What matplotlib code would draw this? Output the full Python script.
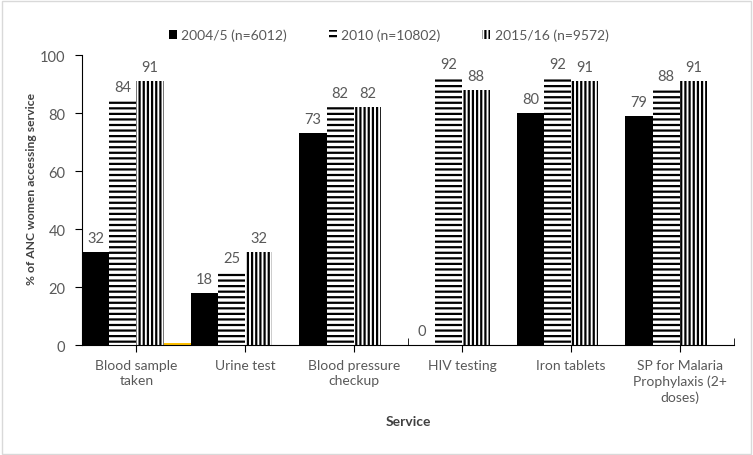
import matplotlib
matplotlib.use("Agg")
import matplotlib.pyplot as plt
import numpy as np
from matplotlib.patches import Patch, Rectangle

categories = ["Blood sample\ntaken", "Urine test", "Blood pressure\ncheckup",
              "HIV testing", "Iron tablets", "SP for Malaria\nProphylaxis (2+\ndoses)"]
series_names = ["2004/5 (n=6012)", "2010 (n=10802)", "2015/16 (n=9572)"]
v2004 = [32, 18, 73, 0, 80, 79]
v2010 = [84, 25, 82, 92, 92, 88]
v2015 = [91, 32, 82, 88, 91, 91]
v_extra = [0.7, 0, 0, 0, 0, 0]

plt.rcParams['font.family'] = ['Lato', 'DejaVu Sans']
plt.rcParams['hatch.linewidth'] = 1.6
gray = "#595959"

fig = plt.figure(figsize=(7.53, 4.56), dpi=100)
ax = fig.add_axes([0.109, 0.241, 0.866, 0.636])

x = np.arange(len(categories))
w = 0.25
styles = [
    dict(facecolor="black", edgecolor="black", hatch=None),
    dict(facecolor="white", edgecolor="black", hatch="---"),
    dict(facecolor="white", edgecolor="black", hatch="||||"),
]
for i, vals in enumerate([v2004, v2010, v2015]):
    bars = ax.bar(x + (i - 1.5) * w, vals, w, linewidth=0, **styles[i])
    for b, v in zip(bars, vals):
        ax.text(b.get_x() + b.get_width() / 2, v + 2.5, f"{v}", ha="center", va="bottom",
                color=gray, fontsize=10.5)
ax.bar(x + 1.5 * w, v_extra, w, color="#FFC000", linewidth=0)

ax.set_xlim(-0.5, len(categories) - 0.5)
ax.set_ylim(0, 100)
ax.set_yticks(range(0, 101, 20))
ax.set_xticks(x)
ax.set_xticklabels(categories, fontsize=10, color=gray, linespacing=1.35)
ax.set_xticks(np.arange(0.5, len(categories), 1.0), minor=True)
ax.tick_params(axis='x', which='major', direction='out', length=5, color="black", pad=5)
ax.tick_params(axis='x', which='minor', direction='in', length=5, color="black")
ax.tick_params(axis='y', labelsize=10.5, labelcolor=gray, length=5, pad=7)
for s in ["top", "right"]:
    ax.spines[s].set_visible(False)
ax.spines["left"].set_color("black")
ax.spines["bottom"].set_color("black")

ax.set_ylabel("% of ANC women accessing service", fontsize=8.7, fontweight="bold", color="#404040")
ax.yaxis.set_label_coords(-0.069, 0.541)
ax.set_xlabel("Service", fontsize=10, fontweight="bold", color="#404040", labelpad=8)

handles = [Patch(facecolor="black", edgecolor="black", linewidth=0),
           Patch(facecolor="white", edgecolor="black", hatch="---", linewidth=0),
           Patch(facecolor="white", edgecolor="black", hatch="||||", linewidth=0)]
fig.legend(handles, series_names, loc="center", bbox_to_anchor=(0.516, 0.921), ncol=3,
           frameon=False, fontsize=10, labelcolor=gray, handlelength=0.6, handleheight=0.6,
           columnspacing=3.0, handletextpad=0.3)

fig.patches.append(Rectangle((0.002, 0.003), 0.995, 0.993, transform=fig.transFigure,
                             fill=False, edgecolor="#d9d9d9", linewidth=1))
fig.savefig("out.png", dpi=100)
